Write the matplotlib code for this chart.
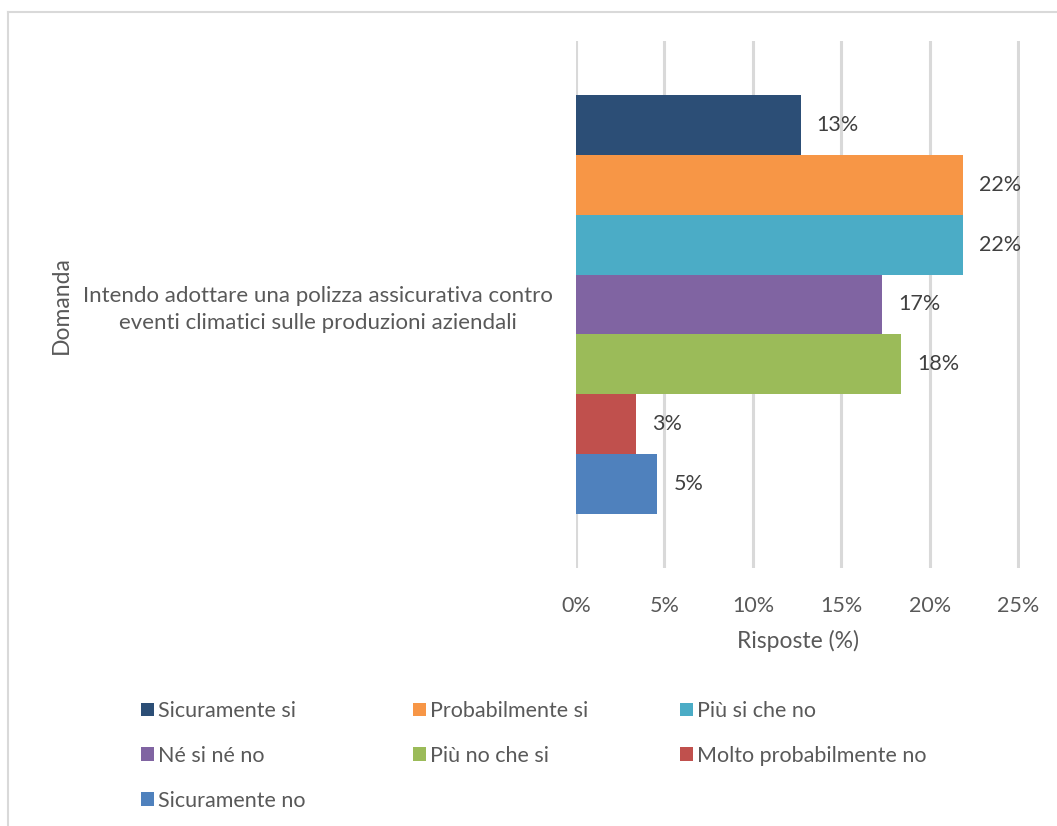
import matplotlib
matplotlib.use("Agg")
import matplotlib.pyplot as plt
from matplotlib.patches import Patch
from matplotlib.lines import Line2D

plt.rcParams['font.family'] = ['Lato', 'DejaVu Sans']

# risposte alla domanda sulla polizza assicurativa
domanda = "Intendo adottare una polizza assicurativa contro\neventi climatici sulle produzioni aziendali"
risposte = ["Sicuramente si", "Probabilmente si", "Più si che no", "Né si né no",
            "Più no che si", "Molto probabilmente no", "Sicuramente no"]
percentuali = [12.7, 21.9, 21.9, 17.3, 18.4, 3.4, 4.6]
colori = ["#2c4e76", "#f79646", "#4bacc6", "#8064a2", "#9bbb59", "#c0504d", "#4f81bd"]
xticks = [0, 5, 10, 15, 20, 25]

testo = "#595959"
fs = 15.5

fig = plt.figure(figsize=(10.57, 8.26), dpi=100)
ax = fig.add_axes([576 / 1057, 1 - 568 / 826, (1020 - 576) / 1057, (568 - 41) / 826])

n = len(risposte)
h = 0.1135
for i, (lab, v, c) in enumerate(zip(risposte, percentuali, colori)):
    y = (n - 1) / 2 * h - i * h
    ax.barh(y, v, height=h, color=c, label=lab, zorder=3)
    ax.text(v + 0.9, y, f"{v:.0f}%", va="center", ha="left",
            fontsize=fs, color="#404040", zorder=4)

ax.set_xlim(0, 25.1)
ax.set_ylim(-0.5, 0.5)
ax.set_xticks(xticks)
ax.set_xticklabels([f"{t}%" for t in xticks], fontsize=fs, color=testo)
ax.set_yticks([0])
ax.set_yticklabels([domanda], fontsize=16, color=testo, ha="right",
                   multialignment="center", linespacing=1.4)
ax.tick_params(axis="y", pad=17, length=0)
ax.tick_params(axis="x", length=0, pad=20)
ax.grid(axis="x", color="#d9d9d9", linewidth=2.2, zorder=0)
for s in ax.spines.values():
    s.set_visible(False)
ax.set_xlabel("Risposte (%)", fontsize=16.5, color=testo, labelpad=10)
fig.text(61 / 1057, 1 - 305 / 826, "Domanda", rotation=90, fontsize=16.5,
         color=testo, ha="center", va="center")

# legenda: tre colonne a larghezza fissa, voci ordinate per righe
colonne = [[0, 3, 6], [1, 4], [2, 5]]
x_col = [141, 413, 680]
for idx, x0 in zip(colonne, x_col):
    leg = fig.legend([Patch(facecolor=colori[k], edgecolor="none") for k in idx],
                     [risposte[k] for k in idx],
                     loc="upper left", bbox_to_anchor=(x0 / 1057, 1 - 701 / 826),
                     frameon=False, fontsize=fs, handlelength=0.6, handleheight=0.6,
                     handletextpad=0.2, labelspacing=1.15,
                     borderaxespad=0, borderpad=0)
    for t in leg.get_texts():
        t.set_color(testo)

# cornice del grafico
fig.add_artist(Line2D([8 / 1057, 8 / 1057], [0, 1 - 12 / 826], transform=fig.transFigure,
                      color="#d9d9d9", linewidth=1.5))
fig.add_artist(Line2D([8 / 1057, 1], [1 - 12 / 826, 1 - 12 / 826], transform=fig.transFigure,
                      color="#d9d9d9", linewidth=1.5))

fig.savefig("out.png", dpi=100)
